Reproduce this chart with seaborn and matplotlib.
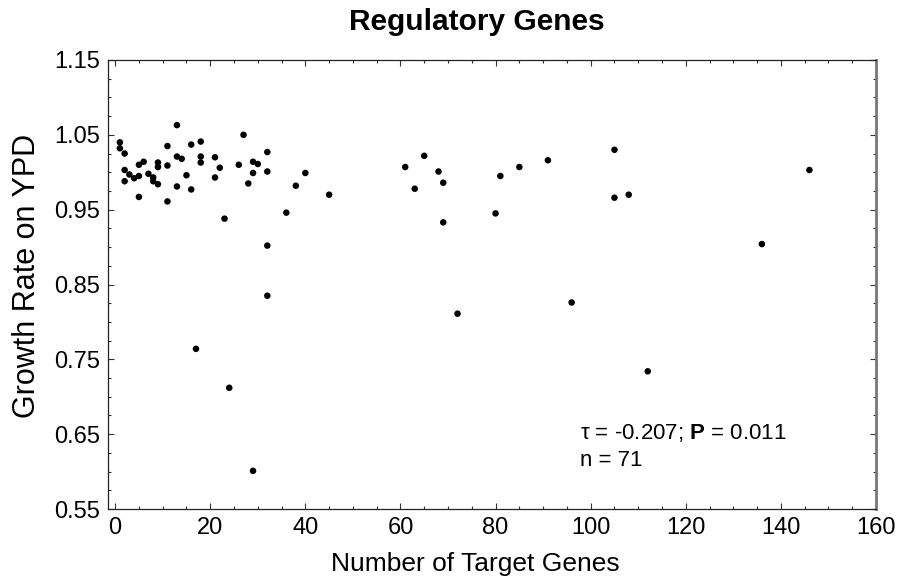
import matplotlib
matplotlib.use("Agg")
import matplotlib.pyplot as plt
from matplotlib.ticker import MultipleLocator
import seaborn as sns
import pandas as pd

# Number of target genes per regulator and the mutant's growth rate on YPD
target_genes = [
    1, 1, 2, 2, 2, 3, 4, 5, 5, 5,
    6, 7, 8, 8, 9, 9, 9, 11, 11, 11,
    13, 13, 13, 14, 15, 16, 16, 18, 18, 18,
    21, 21, 22, 23, 26, 27, 28, 29, 29, 30,
    32, 32, 36, 38, 32, 32, 17, 24, 29, 40,
    45, 61, 65, 63, 68, 69, 69, 72, 80, 81,
    85, 91, 96, 105, 105, 108, 112, 136, 146,
]
growth_rate = [
    1.040, 1.032, 1.025, 1.003, 0.988, 0.997, 0.992, 1.010, 0.995, 0.967,
    1.014, 0.998, 0.993, 0.988, 1.013, 1.007, 0.984, 1.035, 1.009, 0.961,
    1.063, 1.021, 0.981, 1.018, 0.996, 1.037, 0.977, 1.041, 1.021, 1.013,
    1.020, 0.993, 1.006, 0.938, 1.010, 1.050, 0.985, 1.014, 0.999, 1.011,
    1.027, 1.001, 0.946, 0.982, 0.902, 0.835, 0.764, 0.712, 0.601, 0.999,
    0.970, 1.007, 1.022, 0.978, 1.001, 0.986, 0.933, 0.811, 0.945, 0.995,
    1.007, 1.016, 0.826, 1.030, 0.966, 0.970, 0.734, 0.904, 1.003,
]

x_ticks = [0, 20, 40, 60, 80, 100, 120, 140, 160]
y_ticks = [0.55, 0.65, 0.75, 0.85, 0.95, 1.05, 1.15]
y_tick_labels = ["0.55", "0.65", "0.75", "0.85", "0.95", "1.05", "1.15"]

title = "Regulatory Genes"
x_label = "Number of Target Genes"
y_label = "Growth Rate on YPD"
tau_value = "-0.207"
p_value = "0.011"
n_value = 71

df = pd.DataFrame({"targets": target_genes, "growth": growth_rate})

sns.set_theme(style="ticks")
plt.rcParams["font.family"] = ["Liberation Sans", "DejaVu Sans"]
plt.rcParams.update({
    "text.color": "black",
    "axes.labelcolor": "black",
    "xtick.labelcolor": "black",
    "ytick.labelcolor": "black",
    "mathtext.fontset": "custom",
    "mathtext.rm": "Liberation Sans",
    "mathtext.bf": "Liberation Sans:bold",
})

fig = plt.figure(figsize=(8.97, 5.83), dpi=100)
ax = fig.add_axes([108 / 897, 1 - 509 / 583, (876 - 108) / 897, (509 - 60) / 583])

sns.scatterplot(data=df, x="targets", y="growth", ax=ax, color="black",
                s=22, linewidth=0, edgecolor="none", legend=False)

ax.set_xlim(-1.5, 160)
ax.set_ylim(0.55, 1.15)
ax.set_xticks(x_ticks)
ax.set_yticks(y_ticks)
ax.set_yticklabels(y_tick_labels)
ax.xaxis.set_minor_locator(MultipleLocator(5))
ax.yaxis.set_minor_locator(MultipleLocator(0.025))

ax.tick_params(which="both", direction="in", top=True, right=True,
               colors="#333333", labelcolor="black", labelsize=17, width=0.8)
ax.tick_params(which="major", length=4, pad=6)
ax.tick_params(which="minor", length=2)

for side in ["left", "top", "bottom"]:
    ax.spines[side].set_color("#222222")
    ax.spines[side].set_linewidth(0.9)
ax.spines["right"].set_color("#777777")
ax.spines["right"].set_linewidth(2)

ax.set_xlabel(x_label, fontsize=19)
ax.set_ylabel(y_label, fontsize=22)
ax.xaxis.set_label_coords(0.478, -0.095)
ax.yaxis.set_label_coords(-0.086, 0.519)

fig.text(477 / 897, 1 - 22 / 583, title, ha="center", va="center",
         fontsize=21.5, fontweight="bold")

ax.text(97.8, 0.651, f"\u03c4 = {tau_value}; " + r"$\mathbf{P}$" + f" = {p_value}",
        fontsize=16, ha="left", va="center")
ax.text(97.8, 0.615, f"n = {n_value}", fontsize=16, ha="left", va="center")

fig.savefig("out.png", dpi=100)
